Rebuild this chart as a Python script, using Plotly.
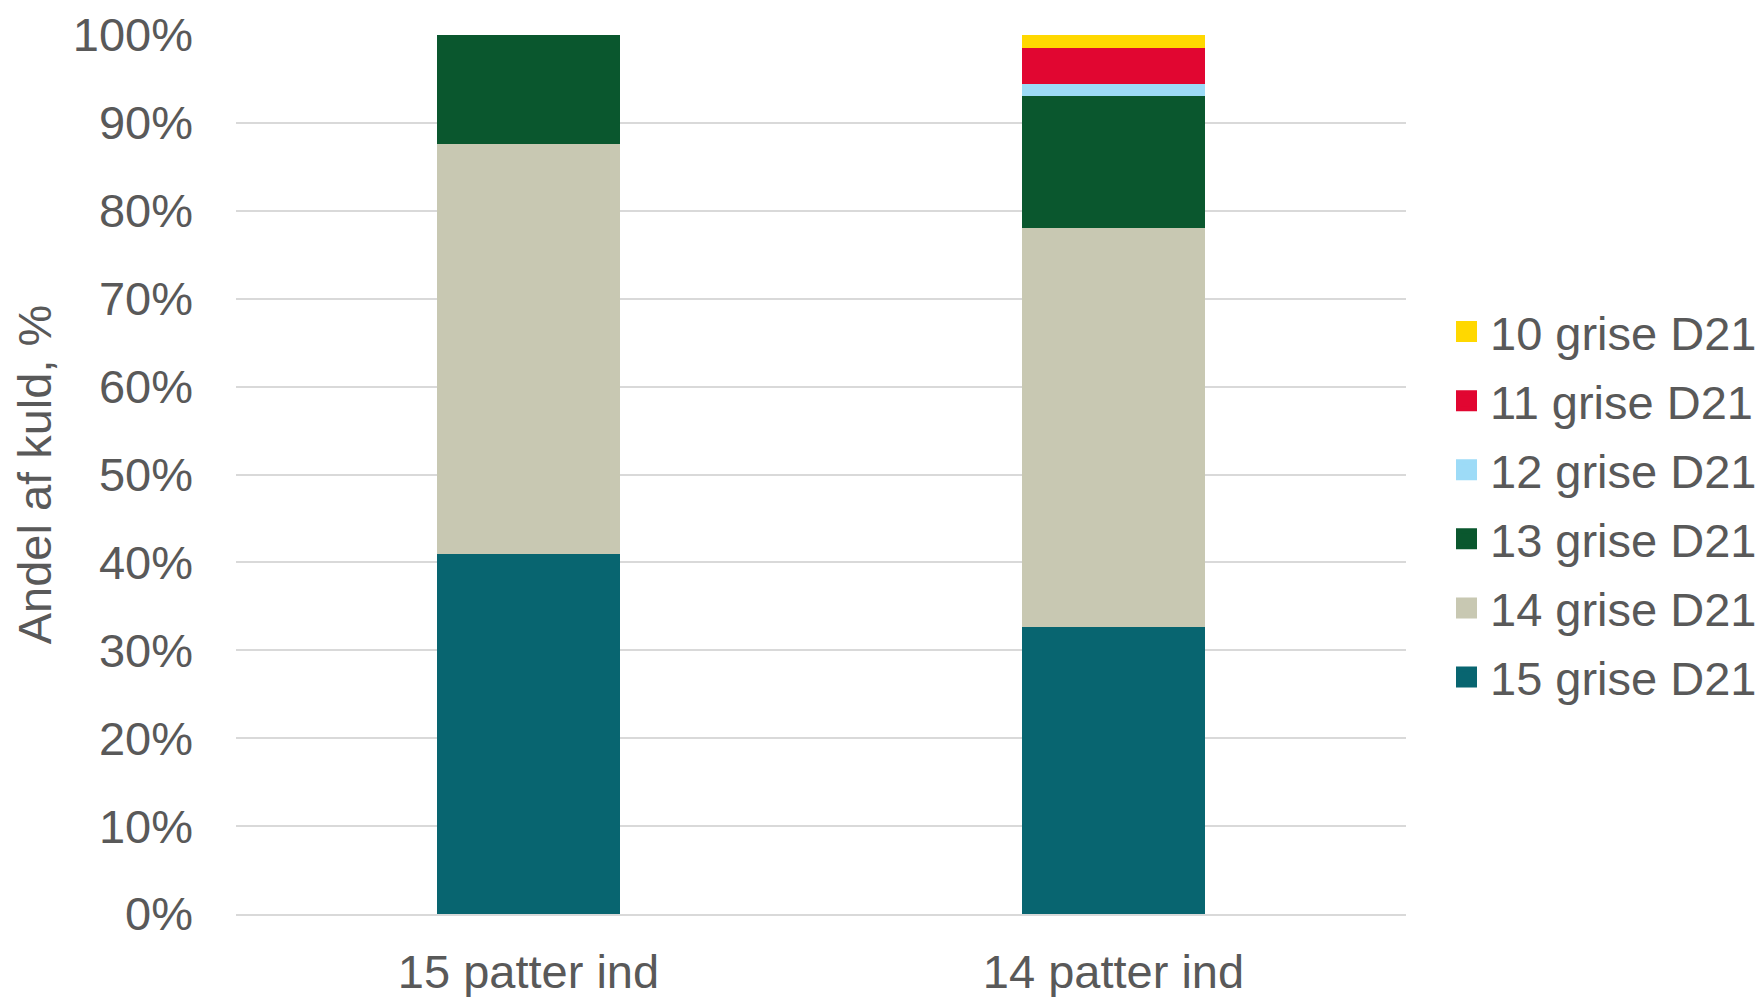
import plotly.graph_objects as go

categories = ["15 patter ind", "14 patter ind"]
series_names = ["15 grise D21", "14 grise D21", "13 grise D21", "12 grise D21", "11 grise D21", "10 grise D21"]
v15 = [41.0, 32.7]
v14 = [46.6, 45.3]
v13 = [12.4, 15.1]
v12 = [0.0, 1.3]
v11 = [0.0, 4.1]
v10 = [0.0, 1.5]
values = [v15, v14, v13, v12, v11, v10]
colors = ["#086570", "#C8C8B2", "#0A572E", "#9DDBF7", "#E10631", "#FFD800"]
y_ticks = list(range(0, 101, 10))
y_tick_labels = [f"{t}%" for t in y_ticks]

FONT = "Liberation Sans, Arial, sans-serif"
TXT = "#595959"
FS = 47
W, H = 1747, 989

fig = go.Figure()
for name, vals, col in zip(series_names, values, colors):
    fig.add_trace(go.Bar(
        x=categories, y=vals, name=name,
        marker=dict(color=col, line=dict(width=0)),
        showlegend=False,
    ))
# legend entries (square swatches), top entry first
for name, col in reversed(list(zip(series_names, colors))):
    fig.add_trace(go.Scatter(
        x=[None], y=[None], name=name, mode="markers",
        marker=dict(symbol="square", size=16, color=col, line=dict(color=col, width=5)),
        legendgroup=name, showlegend=True, hoverinfo="skip",
    ))

fig.update_layout(
    barmode="stack",
    bargap=0.687,
    width=W, height=H,
    margin=dict(l=228, r=349, t=27, b=83, autoexpand=False),
    plot_bgcolor="white", paper_bgcolor="white",
    font=dict(family=FONT, size=FS, color=TXT),
    legend=dict(
        traceorder="grouped",
        xref="container", yref="container",
        x=0.8214, xanchor="left",
        y=1 - 496.5 / H, yanchor="middle",
        font=dict(size=FS, color=TXT),
        itemwidth=37,
        itemsizing="trace",
        tracegroupgap=5,
        bgcolor="rgba(0,0,0,0)",
    ),
    showlegend=True,
)
fig.update_yaxes(
    range=[0, 100], automargin=False,
    tickvals=y_ticks, ticktext=y_tick_labels,
    showgrid=True, gridcolor="#D9D9D9", gridwidth=2,
    zeroline=False, showline=False,
    ticks="", ticklabelstandoff=42,
    tickfont=dict(size=FS, color=TXT),
    title=dict(text="Andel af kuld, %", font=dict(size=FS, color=TXT), standoff=12),
)
fig.update_xaxes(
    automargin=False,
    showline=True, linecolor="#D9D9D9", linewidth=2,
    ticks="", ticklabelstandoff=16,
    tickfont=dict(size=FS, color=TXT),
)
fig.write_html("out.html")
